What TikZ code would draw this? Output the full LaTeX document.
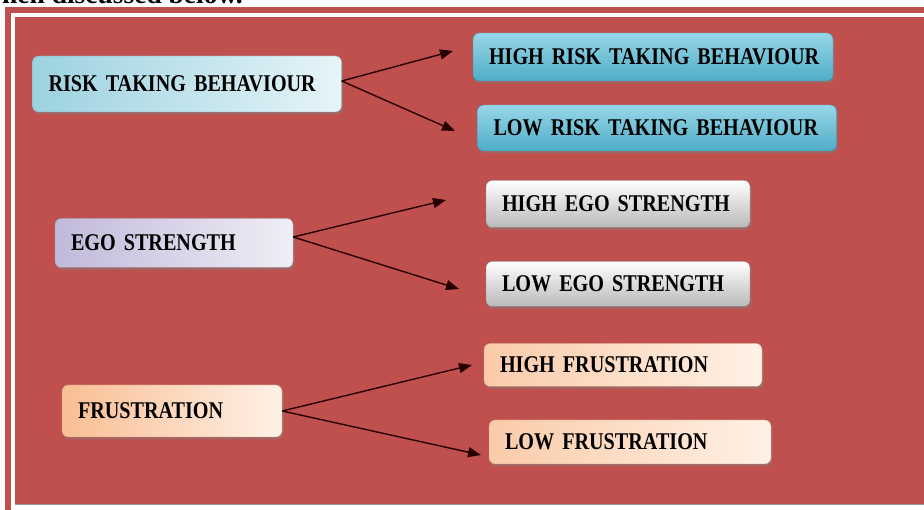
\documentclass[tikz,border=0pt]{standalone}
\usepackage{fontspec}
\setmainfont{Liberation Serif}
\newfontfamily\boxfont[FakeStretch=0.84, WordSpace=0.7]{Liberation Serif}
\usepackage{tikz}
\usetikzlibrary{arrows.meta, shadows}

\definecolor{framered}{HTML}{C0504D}
\definecolor{riskdark}{HTML}{9CD2E0}
\definecolor{risklight}{HTML}{E6F4F8}
\definecolor{riskmid}{HTML}{4EADC7}
\definecolor{risktop}{HTML}{98D6E8}
\definecolor{egodark}{HTML}{C1B9DA}
\definecolor{egolight}{HTML}{F0EEF6}
\definecolor{frusdark}{HTML}{F9BE93}
\definecolor{fruslight}{HTML}{FFF1E6}

\begin{document}
\begin{tikzpicture}[x=1pt, y=-1pt,
    box/.style={rounded corners=6pt, align=left, inner xsep=16pt, inner ysep=0pt,
      font=\boxfont\bfseries\fontsize{24}{26}\selectfont,
      drop shadow={shadow xshift=1.5pt, shadow yshift=-2.5pt, opacity=0.45}},
    riskbox/.style={box, draw=riskdark!80!black, left color=riskdark, right color=risklight},
    riskleaf/.style={box, draw=riskmid!80!black, top color=risktop, bottom color=riskmid},
    egobox/.style={box, draw=egodark!80!black, left color=egodark, right color=egolight},
    egoleaf/.style={box, draw=gray, top color=white, bottom color=gray!55},
    frusbox/.style={box, draw=frusdark!80!black, left color=frusdark, right color=fruslight},
    frusleaf/.style={box, draw=frusdark!80!black, left color=frusdark!80, right color=fruslight},
    link/.style={line width=1.4pt, draw=black!85!red, -{Triangle[length=13pt, width=10pt]}}]
  \clip (0,0) rectangle (924,510);
  \useasboundingbox (0,0) rectangle (924,510);

  % page text cut by the crop
  \node[anchor=base east, inner sep=0pt, font=\bfseries\fontsize{27.5}{30}\selectfont]
    (caption) at (243,3.5) {hen discussed below.};

  % frame
  \fill[framered] (5,7) rectangle (950,530);
  \fill[white] (11,13) rectangle (950,530);
  \fill[framered] (15,17) rectangle (950,504);
  \draw[black!40] (15,504) -- (950,504);

  % risk taking behaviour
  \node[riskbox, text width=277pt, minimum height=56pt] (risk) at (187,84) {\mbox{RISK TAKING BEHAVIOUR}};
  \node[riskleaf, text width=328pt, minimum height=48pt] (highrisk) at (653,57) {\mbox{HIGH RISK TAKING BEHAVIOUR}};
  \node[riskleaf, text width=327pt, minimum height=46pt] (lowrisk) at (657,128) {\mbox{LOW RISK TAKING BEHAVIOUR}};
  \coordinate (highrisktip) at (453,51);
  \coordinate (lowrisktip) at (455,131);
  \draw[link] ([yshift=3pt]risk.east) -- (highrisktip);
  \draw[link] ([yshift=3pt]risk.east) -- (lowrisktip);

  % ego strength
  \node[egobox, text width=206pt, minimum height=49pt] (ego) at (174,243) {EGO STRENGTH};
  \node[egoleaf, text width=232pt, minimum height=47pt] (highego) at (618,204) {HIGH EGO STRENGTH};
  \node[egoleaf, text width=232pt, minimum height=45pt] (lowego) at (618,284) {LOW EGO STRENGTH};
  \coordinate (highegotip) at (446,200);
  \coordinate (lowegotip) at (459,289);
  \draw[link] ([yshift=6pt]ego.east) -- (highegotip);
  \draw[link] ([yshift=6pt]ego.east) -- (lowegotip);

  % frustration
  \node[frusbox, text width=188pt, minimum height=52pt] (frus) at (172,411) {FRUSTRATION};
  \node[frusleaf, text width=246pt, minimum height=43pt] (highfrus) at (623,365) {HIGH FRUSTRATION};
  \node[frusleaf, text width=250pt, minimum height=44pt] (lowfrus) at (630,442) {LOW FRUSTRATION};
  \coordinate (highfrustip) at (472,365);
  \coordinate (lowfrustip) at (481,455);
  \draw[link] (frus.east) -- (highfrustip);
  \draw[link] (frus.east) -- (lowfrustip);
\end{tikzpicture}
\end{document}
